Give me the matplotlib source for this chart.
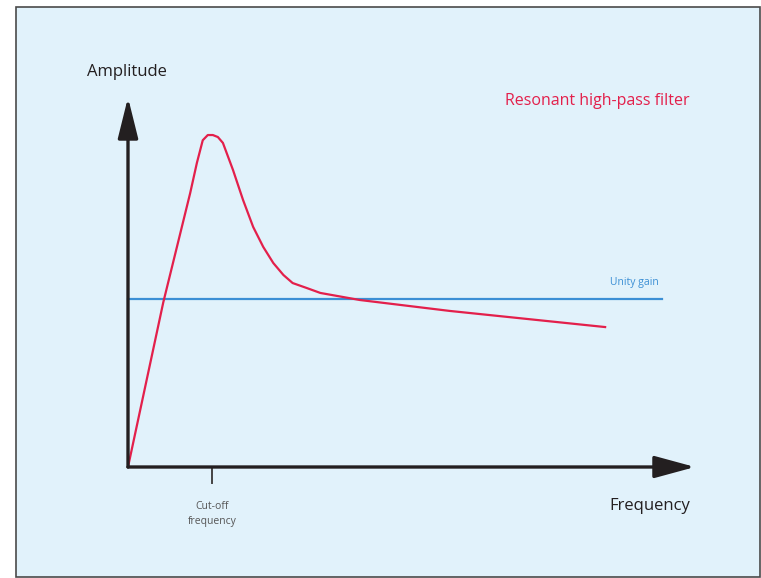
import numpy as np
import matplotlib
matplotlib.use("Agg")
import matplotlib.pyplot as plt
from matplotlib.patches import Rectangle

# response of a resonant high-pass filter (frequency in cut-off units, amplitude in unity-gain units)
freq = [0.0, 0.42, 0.74, 0.82, 0.89, 0.95, 1.01, 1.07, 1.13, 1.25, 1.37, 1.49, 1.61, 1.73,
        1.85, 1.96, 2.13, 2.29, 2.76, 3.83, 5.68]
amp = [0.0, 0.98, 1.63, 1.81, 1.945, 1.976, 1.976, 1.964, 1.929, 1.768, 1.589, 1.429, 1.31, 1.214,
       1.143, 1.095, 1.065, 1.036, 0.994, 0.929, 0.833]
unity = 1.0
cutoff = 1.0
unity_end = 6.36

red = '#e3204b'
blue = '#3b8fd5'
dark = '#231f20'

fig = plt.figure(figsize=(7.61, 5.78), dpi=100)
ax = fig.add_axes([0, 0, 1, 1])
ax.set_xlim(-128 / 84, (761 - 128) / 84)
ax.set_ylim(-(578 - 467) / 168, 467 / 168)
ax.axis('off')

# light blue panel with border
ax.add_patch(Rectangle((16 / 761, 1 / 578), 744 / 761, 570 / 578, transform=ax.transAxes,
                       facecolor='#e1f2fb', edgecolor='#4a4a4a', lw=1.2, zorder=0))

# axes arrows
ax.annotate('', xy=(0, 2.2), xytext=(0, 0),
            arrowprops=dict(arrowstyle='-|>,head_length=2.5,head_width=0.62', lw=2.4,
                            color=dark, shrinkA=0, shrinkB=0))
ax.annotate('', xy=(6.75, 0), xytext=(0, 0),
            arrowprops=dict(arrowstyle='-|>,head_length=2.5,head_width=0.68', lw=2.4,
                            color=dark, shrinkA=0, shrinkB=0))
ax.plot([cutoff, cutoff], [0, -0.095], color='#444444', lw=1.4)

# unity gain and filter curve
ax.plot([0, unity_end], [unity, unity], color=blue, lw=1.6)
ax.plot(freq, amp, color=red, lw=1.6, solid_joinstyle='round')

ax.text(-0.49, 2.35, 'Amplitude', fontsize=12, color=dark, ha='left', va='center', family='Open Sans')
ax.text(6.69, -0.23, 'Frequency', fontsize=12, color=dark, ha='right', va='center', family='Open Sans')
ax.text(6.69, 2.18, 'Resonant high-pass filter', fontsize=11.5, color=red, ha='right', va='center', family='Open Sans')
ax.text(6.03, 1.1, 'Unity gain', fontsize=7.5, color=blue, ha='center', va='center', family='Open Sans')
ax.text(cutoff, -0.28, 'Cut-off\nfrequency', fontsize=7.5, color='#555555', ha='center', va='center',
        linespacing=1.5, family='Open Sans')

fig.savefig('out.png', dpi=100)
